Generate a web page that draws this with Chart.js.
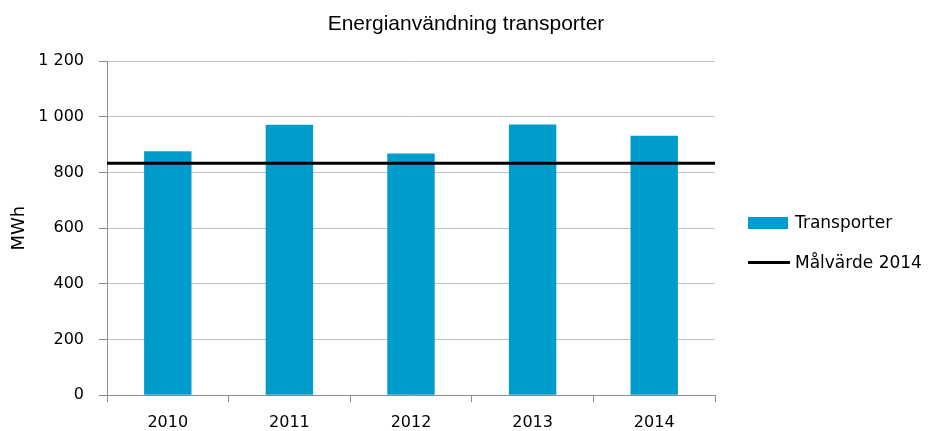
<!DOCTYPE html>
<html>
<head>
<meta charset="utf-8">
<script src="https://cdn.jsdelivr.net/npm/chart.js@4/dist/chart.umd.min.js"></script>
<style>
  html, body { margin: 0; padding: 0; background: #fff; }
  #wrap { width: 928px; height: 431px; }
</style>
</head>
<body>
<div id="wrap"><canvas id="energy"></canvas></div>
<script>
const chartTitle = 'Energianvändning transporter';
const years = ['2010', '2011', '2012', '2013', '2014'];
const transporter = [876, 971, 868, 972, 932];
const malvarde = [833, 833, 833, 833, 833];

function formatTick(v) {
    return String(v).replace(/\B(?=(\d{3})+(?!\d))/g, ' ');
}

// title over the whole canvas and legend right of the plot, Excel style
const sideLegend = {
    id: 'sideLegend',
    afterDraw(chart) {
        const c = chart.ctx;
        const x0 = chart.chartArea.right + 33;
        const sets = chart.data.datasets;
        c.save();
        c.fillStyle = '#000';
        c.textBaseline = 'middle';
        c.textAlign = 'center';
        c.font = '21px "Liberation Sans"';
        c.fillText(chartTitle, chart.width / 2 + 2, 24.5);

        c.textAlign = 'left';
        c.font = '17px "DejaVu Sans"';
        sets.forEach((ds, i) => {
            const y = 223 + i * 39.5;
            if (ds.type === 'line') {
                c.strokeStyle = ds.borderColor;
                c.lineWidth = ds.borderWidth;
                c.beginPath();
                c.moveTo(x0, y);
                c.lineTo(x0 + 42, y);
                c.stroke();
            } else {
                c.fillStyle = ds.backgroundColor;
                c.fillRect(x0, y - 6, 40, 12);
            }
            c.fillStyle = '#000';
            c.fillText(ds.label, x0 + 47, y + 1);
        });
        c.restore();
    }
};

const ctx = document.getElementById('energy').getContext('2d');

new Chart(ctx, {
    type: 'bar',
    data: {
        labels: years,
        datasets: [{
            type: 'bar',
            label: 'Transporter',
            data: transporter,
            backgroundColor: '#009dcc',
            borderWidth: 0,
            grouped: false,
            categoryPercentage: 1,
            barPercentage: 0.39,
            order: 2
        }, {
            type: 'line',
            label: 'Målvärde 2014',
            data: malvarde,
            xAxisID: 'x2',
            borderColor: '#000',
            backgroundColor: '#000',
            borderWidth: 3,
            pointRadius: 0,
            order: 1
        }]
    },
    options: {
        responsive: true,
        maintainAspectRatio: false,
        animation: false,
        layout: { padding: { left: 9, right: 213, top: 61, bottom: -12.5 } },
        plugins: {
            title: { display: false },
            legend: { display: false },
            tooltip: { enabled: false }
        },
        scales: {
            x: {
                offset: true,
                grid: {
                    offset: true,
                    drawOnChartArea: false,
                    drawTicks: true,
                    tickLength: 7,
                    color: '#8c8c8c'
                },
                border: { color: '#8c8c8c' },
                ticks: {
                    color: '#000',
                    padding: 11,
                    font: { family: 'DejaVu Sans', size: 16 }
                }
            },
            x2: {
                type: 'category',
                labels: years,
                offset: false,
                display: false
            },
            y: {
                min: 0,
                max: 1200,
                afterFit(scale) {
                    scale.width = 98;
                },
                ticks: {
                    stepSize: 200,
                    color: '#000',
                    padding: 15,
                    font: { family: 'DejaVu Sans', size: 16 },
                    callback: v => formatTick(v)
                },
                grid: {
                    color: '#c0c0c0',
                    tickLength: 8,
                    tickColor: '#8c8c8c'
                },
                border: { color: '#8c8c8c' },
                title: {
                    display: true,
                    text: 'MWh',
                    color: '#000',
                    font: { family: 'DejaVu Sans', size: 18 },
                    padding: { top: 0, bottom: 0 }
                }
            }
        }
    },
    plugins: [sideLegend]
});
</script>
</body>
</html>
